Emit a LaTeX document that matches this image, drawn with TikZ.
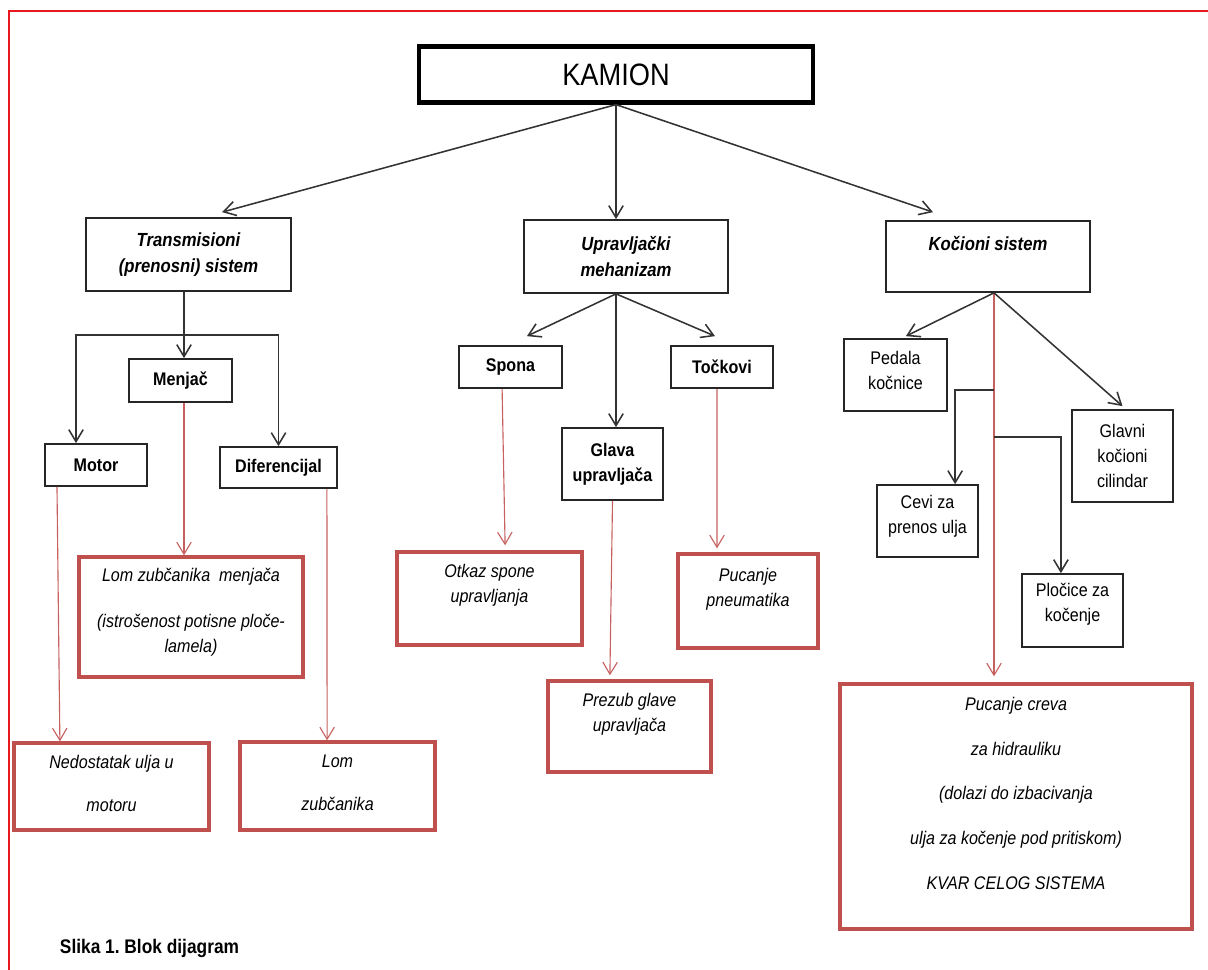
\documentclass[tikz,border=0pt]{standalone}
\usepackage{fontspec}
\setmainfont{Liberation Sans}[FakeStretch=0.88]
\usepackage{tikz}
\usetikzlibrary{arrows.meta, calc, positioning}
\definecolor{failred}{HTML}{C0504D}
\definecolor{framered}{HTML}{E8191E}
\tikzset{>={Straight Barb[length=3mm, width=3.6mm]}}
\frenchspacing

\begin{document}
\begin{tikzpicture}[
  x=0.025cm, y=-0.025cm,
  base/.style={rectangle, align=center, inner sep=1pt, font=\fontsize{13}{17.8}\selectfont},
  rootbox/.style={base, draw=black, line width=3pt, font=\fontsize{22}{26}\selectfont},
  sysbox/.style={base, draw=black!85, line width=1.2pt, font=\fontsize{13.5}{19}\selectfont\bfseries\itshape},
  partbox/.style={base, draw=black!85, line width=1.2pt},
  failbox/.style={base, draw=failred, line width=2.4pt, font=\fontsize{13}{17.8}\selectfont\itshape},
  link/.style={->, line width=1.1pt, black!80},
  faillink/.style={->, line width=0.8pt, failred!90},
  captionstyle/.style={font=\fontsize{14}{16}\selectfont\bfseries}
]

\useasboundingbox (0,0) rectangle (1208,970);

% Page frame (only top and left edges visible)
\draw[framered, line width=1.5pt] (9,970) -- (9,11) -- (1208,11);

% Root
\node[rootbox, minimum width=9.85cm, minimum height=1.4cm] (kamion) at (616,74.5) {KAMION};

% Main systems
\node[sysbox, minimum width=5.125cm, minimum height=1.825cm] (transm) at (188.5,254.5) {Transmisioni\\(prenosni) sistem};
\node[sysbox, minimum width=5.1cm, minimum height=1.825cm] (upr) at (626,256.5) {Upravljački\\mehanizam};
\node[sysbox, minimum width=5.1cm, minimum height=1.775cm, text depth=19pt] (koc) at (988,256.5) {Kočioni sistem};

\draw[link] (kamion.south) -- ([xshift=0.84cm, yshift=0.125cm]transm.north);
\draw[link] (kamion.south) -- (kamion.south |- upr.north);
\draw[link] (kamion.south) -- ([xshift=-1.375cm, yshift=0.2cm]koc.north);

% Transmission parts
\node[partbox, font=\fontsize{13}{17.8}\selectfont\bfseries, minimum width=2.575cm, minimum height=1.075cm] (menjac) at (180.5,380.5) {Menjač};
\node[partbox, font=\fontsize{13}{17.8}\selectfont\bfseries, minimum width=2.55cm, minimum height=1.05cm] (motor) at (96,465) {Motor};
\node[partbox, font=\fontsize{13}{17.8}\selectfont\bfseries, minimum width=2.925cm, minimum height=1.025cm] (difer) at (278.5,467.5) {Diferencijal};

\coordinate (tsplit) at (184,335);
\draw[link] (tsplit |- transm.south) -- (tsplit |- menjac.north);
\draw[link] (tsplit) -| ([xshift=-0.5cm]motor.north);
\draw[link] (tsplit) -| (difer.north);

% Transmission failures
\node[failbox, minimum width=5.6cm, minimum height=3cm, text depth=9pt] (lommenj) at (191,617) {Lom zubčanika\ \ menjača\\[15pt](istrošenost potisne ploče-\\lamela)};
\node[failbox, minimum width=4.875cm, minimum height=2.175cm, text depth=4pt] (nedost) at (111.5,786.5) {Nedostatak ulja u\\[12.8pt]motoru};
\node[failbox, minimum width=4.875cm, minimum height=2.2cm, text depth=4pt] (lomzub) at (337.5,786) {Lom\\[12.8pt]zubčanika};

\draw[faillink] (tsplit |- menjac.south) -- (tsplit |- lommenj.north);
\draw[faillink] ([xshift=-0.975cm]motor.south) -- ([xshift=-1.29cm]nedost.north);
\draw[faillink] ([xshift=1.21cm]difer.south) -- ([xshift=-0.26cm]lomzub.north);

% Steering parts
\node[partbox, font=\fontsize{13}{17.8}\selectfont\bfseries, minimum width=2.575cm, minimum height=1.05cm] (spona) at (510.5,367) {Spona};
\node[partbox, font=\fontsize{13}{17.8}\selectfont\bfseries, minimum width=2.55cm, minimum height=1.05cm] (tockovi) at (722,367) {Točkovi};
\node[partbox, font=\fontsize{13}{17.8}\selectfont\bfseries, minimum width=2.525cm, minimum height=1.8cm] (glava) at (612.5,464) {Glava\\upravljača};

\coordinate (ubase) at (kamion.south |- upr.south);
\draw[link] (ubase) -- ([xshift=0.41cm, yshift=0.225cm]spona.north);
\draw[link] (ubase) -- ([xshift=-0.175cm, yshift=0.225cm]tockovi.north);
\draw[link] (ubase) -- (ubase |- glava.north);

% Steering failures
\node[failbox, minimum width=4.625cm, minimum height=2.325cm, text depth=22pt] (otkaz) at (489.5,598.5) {Otkaz spone\\upravljanja};
\node[failbox, minimum width=3.5cm, minimum height=2.35cm, text depth=19pt] (pucpn) at (748,601) {Pucanje\\pneumatika};
\node[failbox, minimum width=4.075cm, minimum height=2.275cm, text depth=19.5pt] (prezub) at (629.5,726.5) {Prezub glave\\upravljača};

\draw[faillink] ([xshift=-0.21cm]spona.south) -- ([xshift=0.39cm, yshift=0.125cm]otkaz.north);
\draw[faillink] ([xshift=-0.125cm]tockovi.south) -- ([xshift=-0.775cm, yshift=0.1cm]pucpn.north);
\draw[faillink] (glava.south) -- ([xshift=-0.49cm, yshift=0.1cm]prezub.north);

% Brake parts
\node[partbox, minimum width=2.575cm, minimum height=1.8cm, text depth=7pt] (pedala) at (895.5,375) {Pedala\\kočnice};
\node[partbox, minimum width=2.525cm, minimum height=2.3cm] (glavni) at (1122.5,456) {Glavni\\kočioni\\cilindar};
\node[partbox, minimum width=2.525cm, minimum height=1.8cm, text depth=9pt] (cevi) at (927.5,521) {Cevi za\\prenos ulja};
\node[partbox, minimum width=2.525cm, minimum height=1.825cm, text depth=11pt] (plocice) at (1072.5,610.5) {Pločice za\\kočenje};

% Brake failure
\node[failbox, minimum width=8.8cm, minimum height=6.125cm, text depth=19pt] (pucre) at (1016,806.5) {Pucanje creva\\[14pt]za hidrauliku\\[14pt](dolazi do izbacivanja\\[14pt]ulja za kočenje pod pritiskom)\\[14pt]KVAR CELOG SISTEMA};

\coordinate (kbase) at ([xshift=0.15cm]koc.south);
\coordinate (kj1) at (994,390);
\coordinate (kj2) at (994,437);
\draw[faillink, shorten >=0.15cm] (kbase) -- (kbase |- pucre.north);
\draw[link] (kbase) -- ([xshift=0.26cm, yshift=0.05cm]pedala.north);
\draw[link] (kbase) -- ([yshift=0.075cm]glavni.north);
\draw[link] (kj1) -| ([xshift=0.69cm]cevi.north);
\draw[link] (kj2) -| ([xshift=-0.29cm]plocice.north);

% Caption
\node[captionstyle, anchor=base west] (caption) at (55,953) {Slika 1. Blok dijagram};

\end{tikzpicture}
\end{document}
